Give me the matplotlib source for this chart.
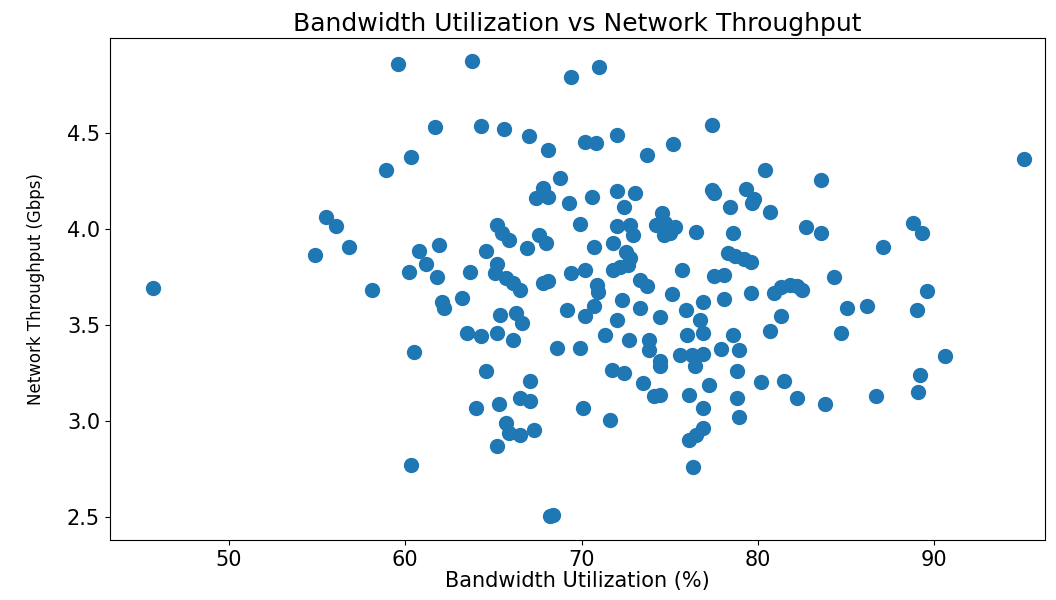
import matplotlib
matplotlib.use("Agg")
import matplotlib.pyplot as plt

# bandwidth utilization (%)
bandwidth = [
    45.7, 54.9, 55.5, 56.1, 56.8, 58.1, 58.9, 59.6, 60.3, 60.5,
    60.3, 60.2, 60.8, 61.2, 61.7, 61.9, 61.8, 62.1, 62.2, 63.2,
    63.8, 63.7, 64.3, 64.6, 63.5, 64.3, 64.6, 64.0, 65.6, 65.2,
    65.5, 65.9, 65.2, 65.1, 65.7, 66.1, 66.5, 65.4, 66.3, 66.6,
    65.2, 66.1, 65.3, 65.7, 65.9, 66.5, 67.3, 65.2, 66.5, 67.1,
    67.1, 67.0, 68.1, 67.6, 68.0, 66.9, 67.8, 68.1, 67.8, 67.4,
    68.1, 68.8, 69.3, 69.4, 71.0, 70.2, 70.8, 70.6, 69.9, 70.7,
    69.4, 70.2, 70.9, 70.95, 69.15, 70.7, 70.2, 68.6, 69.9, 70.1,
    68.2, 68.4, 71.3, 71.6, 71.7, 72.4, 72.0, 73.7, 75.2, 77.4,
    72.0, 73.0, 72.4, 72.0, 72.75, 72.9, 71.8, 72.5, 72.75, 72.65,
    72.2, 71.8, 72.3, 72.0, 72.7, 73.3, 73.7, 73.3, 73.8, 73.8,
    73.5, 74.1, 74.45, 74.45, 74.45, 74.45, 75.1, 74.55, 74.2, 74.75,
    75.3, 74.65, 75.0, 75.7, 76.5, 75.9, 76.7, 76.9, 76.0, 76.9,
    75.6, 76.25, 76.9, 77.9, 76.45, 76.1, 77.2, 76.9, 76.9, 76.5,
    76.1, 76.3, 77.4, 77.5, 78.4, 78.6, 77.5, 78.05, 78.3, 78.7,
    79.2, 79.6, 79.3, 79.75, 79.65, 80.4, 80.7, 82.75, 83.6, 83.55,
    79.6, 80.9, 81.3, 81.8, 82.2, 82.5, 78.1, 81.3, 80.7, 78.6,
    78.9, 78.8, 80.2, 81.45, 78.8, 82.2, 83.8, 78.9, 84.3, 85.05,
    86.2, 84.7, 86.7, 87.1, 88.8, 89.3, 89.6, 89.0, 90.6, 89.2,
    89.1, 95.1,
]

# network throughput (Gbps)
throughput = [
    3.69, 3.865, 4.06, 4.015, 3.905, 3.684, 4.306, 4.86, 4.375, 3.357,
    2.77, 3.774, 3.887, 3.816, 4.53, 3.917, 3.748, 3.621, 3.588, 3.639,
    4.875, 3.774, 4.535, 3.887, 3.458, 3.441, 3.258, 3.068, 4.518, 4.021,
    3.978, 3.943, 3.818, 3.769, 3.743, 3.717, 3.682, 3.549, 3.56, 3.51,
    3.458, 3.42, 3.09, 2.99, 2.938, 2.929, 2.955, 2.868, 3.12, 3.103,
    3.21, 4.484, 4.411, 3.969, 3.926, 3.9, 3.717, 3.73, 4.215, 4.16,
    4.165, 4.264, 4.134, 4.79, 4.844, 4.455, 4.446, 4.165, 4.026, 3.905,
    3.769, 3.786, 3.708, 3.673, 3.578, 3.597, 3.545, 3.38, 3.38, 3.068,
    2.504, 2.512, 3.449, 3.004, 3.266, 3.252, 4.491, 4.387, 4.443, 4.543,
    4.196, 4.188, 4.115, 4.014, 4.022, 3.97, 3.926, 3.88, 3.85, 3.81,
    3.80, 3.786, 3.63, 3.528, 3.42, 3.736, 3.701, 3.587, 3.424, 3.371,
    3.2, 3.129, 3.137, 3.311, 3.285, 3.542, 3.661, 4.082, 4.021, 4.03,
    4.01, 3.969, 3.978, 3.788, 3.984, 3.58, 3.528, 3.62, 3.45, 3.458,
    3.345, 3.345, 3.35, 3.375, 3.288, 3.137, 3.189, 3.068, 2.964, 2.929,
    2.902, 2.76, 4.205, 4.188, 4.115, 3.979, 3.754, 3.759, 3.875, 3.86,
    3.845, 3.825, 4.207, 4.155, 4.134, 4.307, 4.09, 4.009, 3.976, 4.257,
    3.668, 3.665, 3.695, 3.71, 3.705, 3.68, 3.635, 3.545, 3.467, 3.45,
    3.371, 3.259, 3.202, 3.21, 3.12, 3.12, 3.09, 3.019, 3.748, 3.589,
    3.597, 3.458, 3.129, 3.905, 4.031, 3.976, 3.676, 3.58, 3.337, 3.241,
    3.149, 4.366,
]

fig = plt.figure(figsize=(10.56, 6), dpi=100)
ax = fig.add_axes([0.104, 0.1, 0.886, 0.837])

ax.scatter(bandwidth, throughput, s=100, color="#1f77b4")

ax.set_xlim(43.25, 96.3)
ax.set_ylim(2.38, 4.995)
ax.set_xticks([50, 60, 70, 80, 90])
ax.set_yticks([2.5, 3.0, 3.5, 4.0, 4.5])
ax.tick_params(labelsize=15)

ax.set_title("Bandwidth Utilization vs Network Throughput", fontsize=18, pad=5)
ax.set_xlabel("Bandwidth Utilization (%)", fontsize=15, labelpad=1)
ax.set_ylabel("Network Throughput (Gbps)", fontsize=12, labelpad=16)

fig.savefig("out.png", dpi=100)
